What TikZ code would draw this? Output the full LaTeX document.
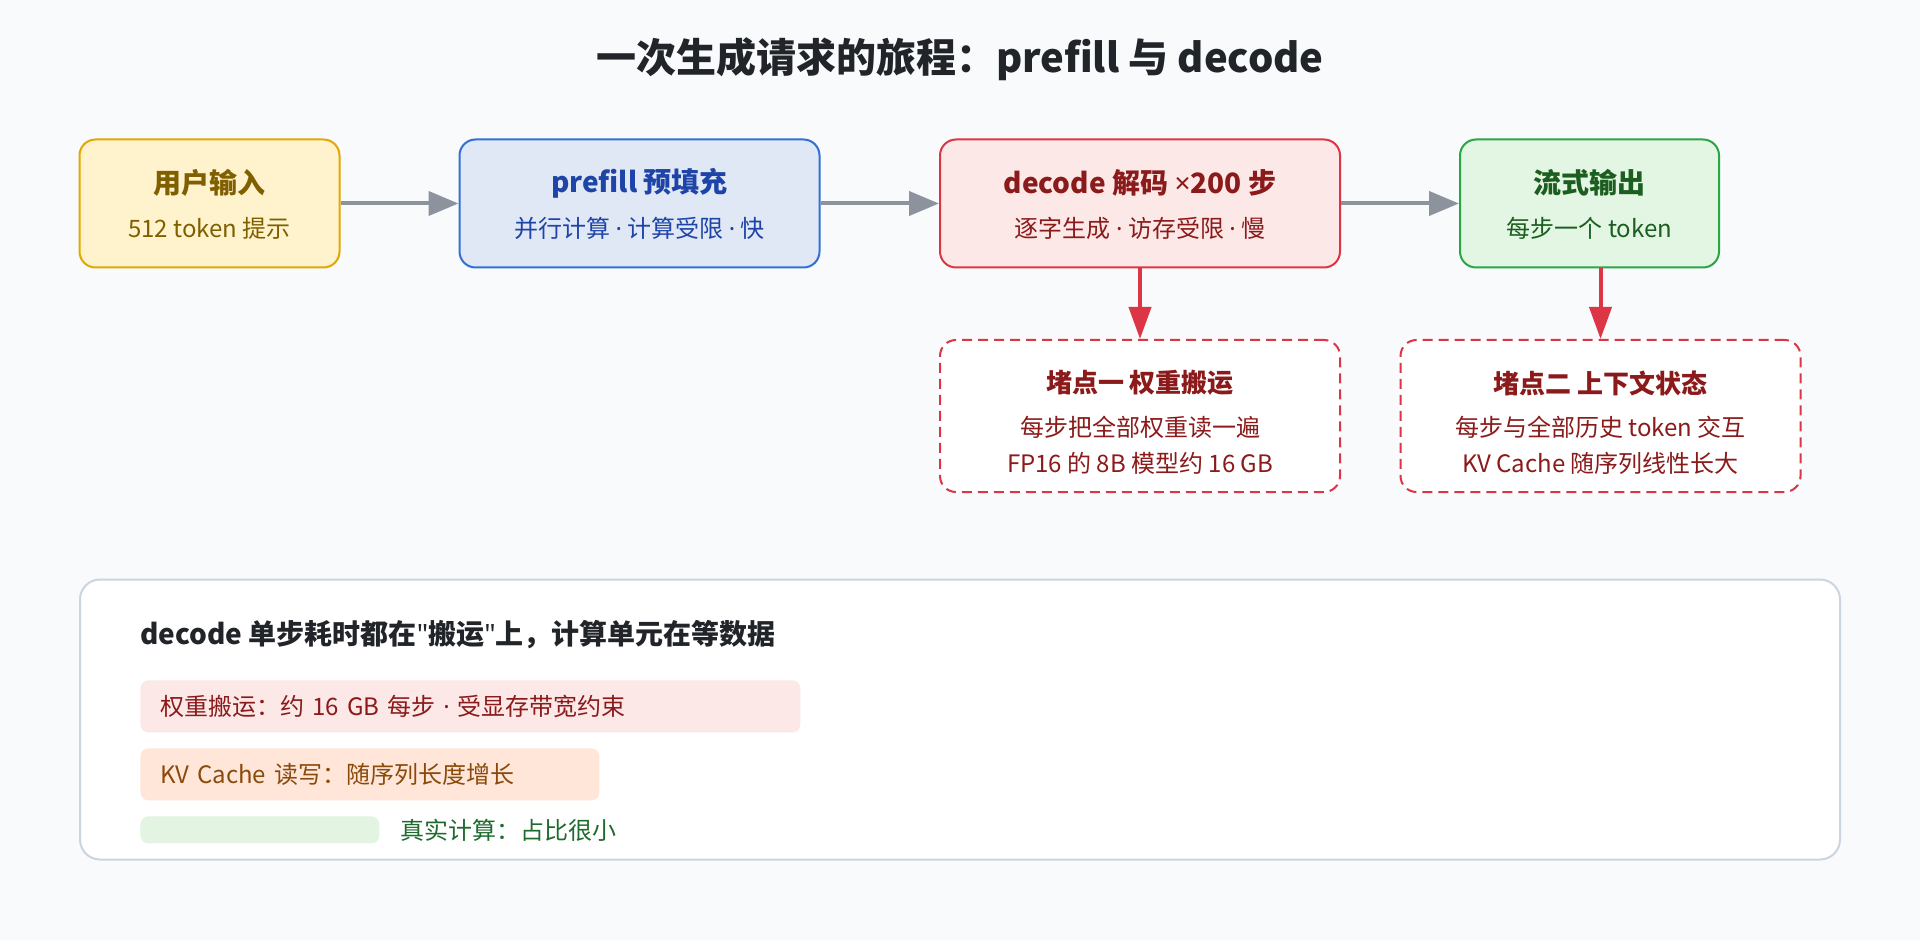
\documentclass[tikz,border=0pt]{standalone}
\usepackage{fontspec}
\setmainfont{Noto Sans CJK SC}
\newfontfamily\latinfont{Noto Sans}[Ligatures=ResetAll]
\newcommand{\mdot}{{\latinfont ·}}
\newcommand{\sq}{{\latinfont "}}
\usepackage{xcolor}
\usepackage{tikz}
\usetikzlibrary{calc,arrows.meta,positioning}
\definecolor{bg}{HTML}{F8FAFC}
\definecolor{ink}{HTML}{212529}
\definecolor{inbg}{HTML}{FFF3CD}
\definecolor{inln}{HTML}{E0A800}
\definecolor{intx}{HTML}{7F5F00}
\definecolor{pfbg}{HTML}{E0E8F5}
\definecolor{pfln}{HTML}{3370D6}
\definecolor{pftx}{HTML}{1E44A8}
\definecolor{dcbg}{HTML}{FDE8E8}
\definecolor{dcln}{HTML}{DC3545}
\definecolor{dctx}{HTML}{8B1A1A}
\definecolor{stbg}{HTML}{E3F5E3}
\definecolor{stln}{HTML}{28A745}
\definecolor{sttx}{HTML}{1B5E20}
\definecolor{gray}{HTML}{8C939D}
\definecolor{pnln}{HTML}{CBD5E1}
\definecolor{kvbg}{HTML}{FFE6D9}
\definecolor{kvtx}{HTML}{8A4A0B}
\definecolor{cpbg}{HTML}{E3F4E3}
\definecolor{cptx}{HTML}{1E6B2E}
\tikzset{
  box/.style={rounded corners=8pt, line width=1pt, inner sep=0pt, minimum height=64pt},
  jam/.style={box, draw=dcln, fill=white, dash pattern=on 5pt off 3pt, minimum width=200pt, minimum height=76pt},
  hd/.style={font=\bfseries\fontsize{14}{16}\selectfont, inner sep=0pt},
  hdj/.style={font=\bfseries\fontsize{13}{15}\selectfont, inner sep=0pt, text=dctx},
  sub/.style={font=\fontsize{12}{14}\selectfont, inner sep=0pt},
  flow/.style={draw=gray, line width=2pt, -{Triangle[length=15pt,width=12pt]}},
  hot/.style={draw=dcln, line width=2pt, -{Triangle[length=16pt,width=11pt]}},
  bar/.style={rounded corners=4pt, anchor=north west, inner xsep=10pt, inner ysep=0pt, align=left, font=\fontsize{12}{14}\selectfont},
}
\begin{document}
\begin{tikzpicture}[x=0.5pt,y=-0.5pt]
  \fill[bg] (0,0) rectangle (1920,940);
  \useasboundingbox (0,0) rectangle (1920,940);
  \node[font=\bfseries\fontsize{20}{24}\selectfont, text=ink] (title) at (960,59) {一次生成请求的旅程：prefill 与 decode};
  % pipeline
  \node[box, draw=inln, fill=inbg, minimum width=130pt] (in) at (209.5,203.5) {};
  \node[box, draw=pfln, fill=pfbg, minimum width=180pt] (pf) at (639.5,203.5) {};
  \node[box, draw=dcln, fill=dcbg, minimum width=200pt] (dc) at (1140,203.5) {};
  \node[box, draw=stln, fill=stbg, minimum width=129.5pt] (st) at (1589.5,203.5) {};
  \node[hd, text=intx] (in-t) at ($(in.center)+(0,-20.5)$) {用户输入};
  \node[sub, text=intx] (in-s) at ($(in.center)+(0,24.5)$) {512 token 提示};
  \node[hd, text=pftx] (pf-t) at ($(pf.center)+(0,-20.5)$) {prefill 预填充};
  \node[sub, text=pftx] (pf-s) at ($(pf.center)+(0,24.5)$) {并行计算 \mdot{} 计算受限 \mdot{} 快};
  \node[hd, text=dctx] (dc-t) at ($(dc.center)+(0,-20.5)$) {decode 解码 {\latinfont ×}200 步};
  \node[sub, text=dctx] (dc-s) at ($(dc.center)+(0,24.5)$) {逐字生成 \mdot{} 访存受限 \mdot{} 慢};
  \node[hd, text=sttx] (st-t) at ($(st.center)+(0,-20.5)$) {流式输出};
  \node[sub, text=sttx] (st-s) at ($(st.center)+(0,24.5)$) {每步一个 token};
  \foreach \a/\b in {in/pf,pf/dc,dc/st}
    \draw[flow] (\a) -- (\b);
  % bottlenecks
  \node[jam] (wa) at (1140,416) {};
  \node[jam] (wb) at (1600.5,416) {};
  \node[hdj] (wa-t) at ($(wa.center)+(0,-33)$) {堵点一 权重搬运};
  \node[sub, text=dctx] (wa-a) at ($(wa.center)+(0,11)$) {每步把全部权重读一遍};
  \node[sub, text=dctx] (wa-b) at ($(wa.center)+(0,47)$) {FP16 的 8B 模型约 16 GB};
  \node[hdj] (wb-t) at ($(wb.center)+(0,-33)$) {堵点二 上下文状态};
  \node[sub, text=dctx] (wb-a) at ($(wb.center)+(0,11)$) {每步与全部历史 token 交互};
  \node[sub, text=dctx] (wb-b) at ($(wb.center)+(0,47)$) {KV Cache 随序列线性长大};
  \draw[hot] (dc.south) -- (wa.north);
  \draw[hot] (st.south -| wb.north) -- (wb.north);
  % time split panel
  \node[draw=pnln, fill=white, line width=1pt, rounded corners=10pt, minimum width=880pt, minimum height=140pt, inner sep=0pt] (pn) at (960,719.5) {};
  \node[anchor=west, inner sep=0pt, font=\bfseries\fontsize{14}{16}\selectfont, text=ink] (pn-t) at (140,635) {decode 单步耗时都在\sq 搬运\sq 上，计算单元在等数据};
  \node[bar, fill=dcbg, text=dctx, text width=310pt, minimum height=26pt] (wt) at (140,680) {权重搬运：约 16 GB 每步 \mdot{} 受显存带宽约束};
  \node[bar, fill=kvbg, text=kvtx, text width=209.5pt, minimum height=26pt] (kv) at (140,748) {KV Cache 读写：随序列长度增长};
  \node[bar, fill=cpbg, text width=99.5pt, minimum height=13.5pt] (cp) at (140,816) {};
  \node[anchor=west, inner sep=0pt, font=\fontsize{12}{14}\selectfont, text=cptx] (cp-t) at (400,830) {真实计算：占比很小};
\end{tikzpicture}
\end{document}
